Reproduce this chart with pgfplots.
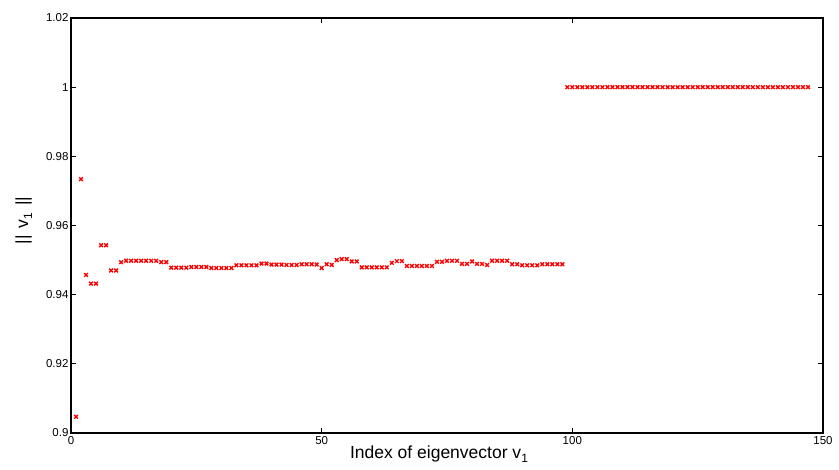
\documentclass[border=0pt]{standalone}
\usepackage{fontspec}
\setmainfont{Liberation Sans}
\usepackage{pgfplots}
\pgfplotsset{compat=1.18}
\newcommand{\subone}{\raisebox{-0.45ex}{\fontsize{12}{14}\selectfont 1}}

\begin{document}
\begin{tikzpicture}
\begin{axis}[
    scale only axis,
    width=752pt,
    height=415pt,
    xmin=0, xmax=150,
    ymin=0.9, ymax=1.02,
    xtick={0,50,100,150},
    ytick={0.9,0.92,0.94,0.96,0.98,1,1.02},
    yticklabels={0.9,0.92,0.94,0.96,0.98,1,1.02},
    tick align=inside,
    major tick length=5pt,
    axis line style={line width=1.2pt, black},
    tick style={line width=0.8pt, black},
    /pgf/number format/assume math mode=true,
    ticklabel style={font=\fontsize{11.5}{13}\selectfont},
    yticklabel style={xshift=1pt},
    xlabel={Index of eigenvector v\subone},
    ylabel={||\hspace{7pt}v\subone\hspace{7pt}||},
    label style={font=\fontsize{17.5}{20}\selectfont},
    xlabel style={yshift=6pt, xshift=-8pt},
    ylabel style={yshift=7pt, xshift=5pt},
    xticklabel style={yshift=0pt},
]
\addplot[only marks, mark=x, mark size=2.6pt, red, mark options={line width=1.4pt}] coordinates {
(1,0.9047) (2,0.9734) (3,0.9457) (4,0.9432) (5,0.9432) (6,0.9543) (7,0.9543) (8,0.9470) (9,0.9470) (10,0.9494)
(11,0.9498) (12,0.9498) (13,0.9498) (14,0.9498) (15,0.9498) (16,0.9498) (17,0.9498) (18,0.9494) (19,0.9494) (20,0.9478)
(21,0.9478) (22,0.9478) (23,0.9478) (24,0.9480) (25,0.9480) (26,0.9480) (27,0.9480) (28,0.9477) (29,0.9477) (30,0.9477)
(31,0.9477) (32,0.9477) (33,0.9485) (34,0.9485) (35,0.9485) (36,0.9485) (37,0.9485) (38,0.9490) (39,0.9490) (40,0.9487)
(41,0.9487) (42,0.9487) (43,0.9486) (44,0.9486) (45,0.9486) (46,0.9488) (47,0.9488) (48,0.9488) (49,0.9487) (50,0.9477)
(51,0.9488) (52,0.9486) (53,0.9500) (54,0.9503) (55,0.9503) (56,0.9496) (57,0.9496) (58,0.9479) (59,0.9479) (60,0.9479)
(61,0.9479) (62,0.9479) (63,0.9479) (64,0.9492) (65,0.9497) (66,0.9497) (67,0.9483) (68,0.9483) (69,0.9483) (70,0.9483)
(71,0.9483) (72,0.9483) (73,0.9495) (74,0.9495) (75,0.9498) (76,0.9498) (77,0.9498) (78,0.9489) (79,0.9489) (80,0.9496)
(81,0.9489) (82,0.9489) (83,0.9486) (84,0.9498) (85,0.9498) (86,0.9498) (87,0.9498) (88,0.9488) (89,0.9488) (90,0.9485)
(91,0.9485) (92,0.9485) (93,0.9485) (94,0.9488) (95,0.9488) (96,0.9488) (97,0.9488) (98,0.9488)
(99,1) (100,1) (101,1) (102,1) (103,1) (104,1) (105,1) (106,1) (107,1) (108,1) (109,1) (110,1) (111,1) (112,1)
(113,1) (114,1) (115,1) (116,1) (117,1) (118,1) (119,1) (120,1) (121,1) (122,1) (123,1) (124,1) (125,1) (126,1)
(127,1) (128,1) (129,1) (130,1) (131,1) (132,1) (133,1) (134,1) (135,1) (136,1) (137,1) (138,1) (139,1) (140,1)
(141,1) (142,1) (143,1) (144,1) (145,1) (146,1) (147,1)
};
\end{axis}
\pgfresetboundingbox
\path ([shift={(-71pt,-36pt)}]current axis.south west) rectangle ([shift={(16pt,18pt)}]current axis.north east);
\end{tikzpicture}
\end{document}
